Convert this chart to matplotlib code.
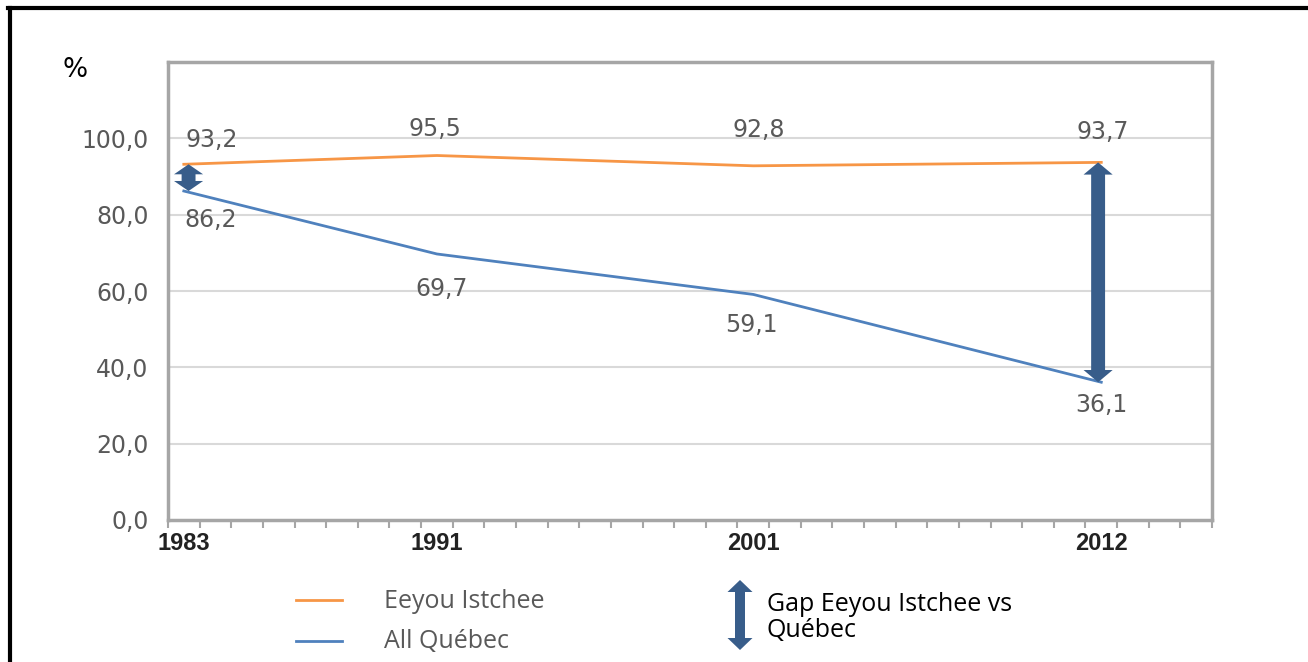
import matplotlib
matplotlib.use("Agg")
import matplotlib.pyplot as plt
import matplotlib.patches as mpatches
from matplotlib.lines import Line2D
import numpy as np

years = [1983, 1991, 2001, 2012]
eeyou = [93.2, 95.5, 92.8, 93.7]
quebec = [86.2, 69.7, 59.1, 36.1]
eeyou_labels = ["93,2", "95,5", "92,8", "93,7"]
quebec_labels = ["86,2", "69,7", "59,1", "36,1"]
gap_years = [1983, 2012]
ytick_labels = ["0,0", "20,0", "40,0", "60,0", "80,0", "100,0"]

ORANGE = "#F79646"
BLUE = "#4F81BD"
ARROW = "#385D8A"
GRID = "#D9D9D9"
FRAME = "#A6A6A6"
LABEL_GREY = "#595959"

W, H = 1308, 662


def double_arrow(x, y0, y1, shaft, head, head_len, transform, **kw):
    """Vertical block arrow with a head at both ends, as one polygon."""
    lo, hi = min(y0, y1), max(y0, y1)
    pts = [
        (x, lo), (x + head / 2, lo + head_len), (x + shaft / 2, lo + head_len),
        (x + shaft / 2, hi - head_len), (x + head / 2, hi - head_len), (x, hi),
        (x - head / 2, hi - head_len), (x - shaft / 2, hi - head_len),
        (x - shaft / 2, lo + head_len), (x - head / 2, lo + head_len),
    ]
    return mpatches.Polygon(pts, closed=True, transform=transform, lw=0, **kw)


fig = plt.figure(figsize=(W / 100, H / 100), dpi=100)
ax = fig.add_axes([168 / W, 1 - 520 / H, (1212 - 168) / W, (520 - 62) / H])

ax.set_xlim(1982.5, 2015.5)
ax.set_ylim(0, 120)

for y in range(20, 120, 20):
    ax.axhline(y, color=GRID, lw=1.5, zorder=0)

for side in ["left", "right", "top", "bottom"]:
    ax.spines[side].set_color(FRAME)
    ax.spines[side].set_linewidth(2.5)

ax.plot(years, eeyou, color=ORANGE, lw=2, zorder=3)
ax.plot(years, quebec, color=BLUE, lw=2, zorder=3)

# data labels (offsets in pixels)
eeyou_off = [(28, 24), (-2, 27), (5, 36), (1, 30)]
quebec_off = [(27, -29), (5, -35), (-2, -31), (0, -23)]
for x, v, t, o in zip(years, eeyou, eeyou_labels, eeyou_off):
    ax.annotate(t, (x, v), xytext=o, textcoords="offset pixels",
                ha="center", va="center", fontsize=17, color=LABEL_GREY,
                family="DejaVu Sans")
for x, v, t, o in zip(years, quebec, quebec_labels, quebec_off):
    ax.annotate(t, (x, v), xytext=o, textcoords="offset pixels",
                ha="center", va="center", fontsize=17, color=LABEL_GREY,
                family="DejaVu Sans")

# gap arrows
gap_shift = {1983: 0.15, 2012: -0.1}
for yr in gap_years:
    i = years.index(yr)
    top, bot = eeyou[i], quebec[i]
    hl = min(3.2, (top - bot) / 2 * 0.75)
    ax.add_patch(double_arrow(yr + gap_shift[yr], bot, top, 0.44, 0.92, hl,
                              ax.transData, color=ARROW, zorder=4))

# axes ticks
ax.set_yticks(range(0, 101, 20))
ax.set_yticklabels(ytick_labels, fontsize=17, color=LABEL_GREY,
                   family="DejaVu Sans")
ax.tick_params(axis="y", length=0, pad=14)

ax.set_xticks(np.arange(1982.5, 2016, 1.0), minor=True)
ax.set_xticks(years)
ax.set_xticklabels([str(y) for y in years], fontsize=17, color="#222222",
                   family="Liberation Sans", fontweight="bold")
ax.tick_params(axis="x", which="major", length=0, pad=9)
ax.tick_params(axis="x", which="minor", length=6, width=1.5, color=FRAME,
               direction="out")

fig.text(62 / W, 1 - 70 / H, "%", fontsize=19, color="black",
         ha="left", va="center", family="DejaVu Sans")

# legend drawn by hand
fig.add_artist(Line2D([296 / W, 342 / W], [1 - 600 / H] * 2, color=ORANGE,
                      lw=2, transform=fig.transFigure))
fig.add_artist(Line2D([296 / W, 342 / W], [1 - 641 / H] * 2, color=BLUE,
                      lw=2, transform=fig.transFigure))
fig.text(384 / W, 1 - 601 / H, "Eeyou Istchee", fontsize=18, color=LABEL_GREY,
         ha="left", va="center", family="Open Sans")
fig.text(384 / W, 1 - 642 / H, "All Québec", fontsize=18, color=LABEL_GREY,
         ha="left", va="center", family="Open Sans")
fig.text(767 / W, 1 - 592 / H, "Gap Eeyou Istchee vs\nQuébec", fontsize=18,
         color="black", ha="left", va="top", family="Open Sans",
         linespacing=1.05)

fig.add_artist(double_arrow(740 / W, 1 - 650 / H, 1 - 580 / H, 10 / W,
                            25 / W, 12 / H, fig.transFigure, color=ARROW))

# outer black frame (top and left only visible)
fig.add_artist(Line2D([8 / W, 1], [1 - 8 / H] * 2, color="black", lw=3,
                      transform=fig.transFigure))
fig.add_artist(Line2D([9.5 / W] * 2, [0, 1 - 8 / H], color="black", lw=3,
                      transform=fig.transFigure))

fig.savefig("out.png", dpi=100)
